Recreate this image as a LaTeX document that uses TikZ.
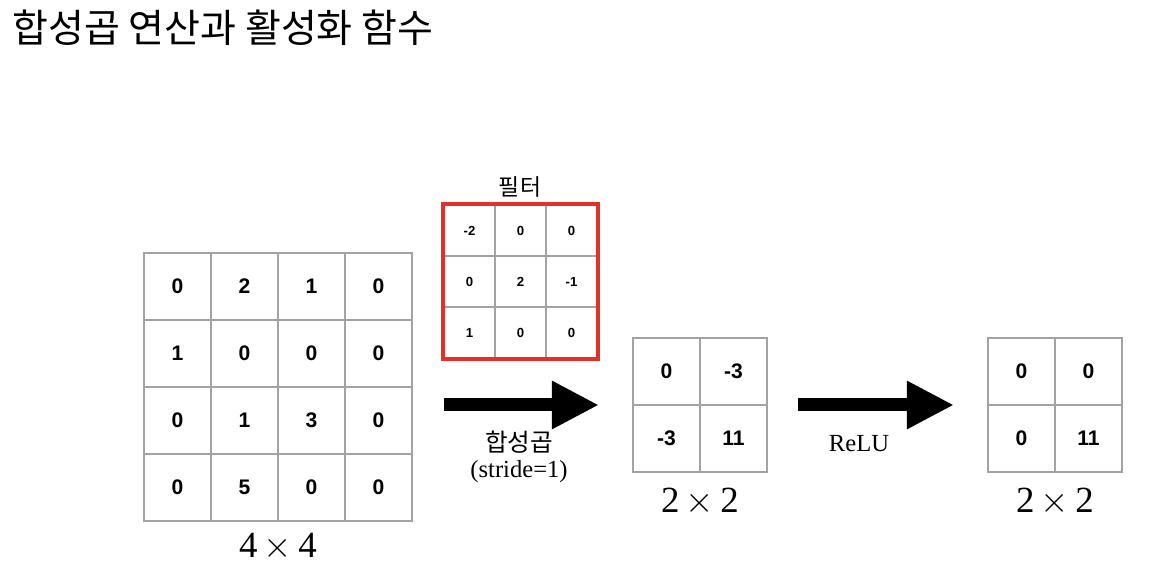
\documentclass[tikz,border=0pt]{standalone}
\usepackage{fontspec}
\setmainfont{Liberation Serif}
\newfontfamily\krfont{Noto Sans CJK KR}
\newfontfamily\numfont{Liberation Sans}
\usepackage{tikz}
\usetikzlibrary{positioning, arrows.meta, fit}
\definecolor{gridgray}{HTML}{A3A3A3}
\definecolor{filtred}{HTML}{E5302A}

\begin{document}
\begin{tikzpicture}[x=0.02cm, y=-0.02cm,
    cell/.style={draw=gridgray, line width=0.8pt, minimum size=1.34cm, inner sep=0pt,
                 font=\numfont\bfseries\fontsize{12}{14}\selectfont},
    fcell/.style={draw=gridgray, line width=0.7pt, minimum size=1.02cm, inner sep=0pt,
                  font=\numfont\bfseries\fontsize{7.5}{9}\selectfont},
    frame/.style={inner sep=0pt},
    dimlbl/.style={anchor=base, inner sep=0pt, font=\fontsize{21}{24}\selectfont},
    oplbl/.style={anchor=base, inner sep=0pt, font=\fontsize{14}{17}\selectfont},
    bigarr/.style={line width=0.26cm, -{Triangle[length=0.94cm, width=0.9cm]}},
]
\useasboundingbox (0,0) rectangle (1150,580);

% Title
\node[anchor=base west, inner sep=0pt, font=\krfont\fontsize{22.2}{26}\selectfont] (title) at (12,43)
  {합성곱 연산과 활성화 함수};

% Input 4x4
\foreach \row [count=\r] in {{0,2,1,0},{1,0,0,0},{0,1,3,0},{0,5,0,0}}
  \foreach \v [count=\c] in \row
    \node[cell] (in-\r-\c) at ({144+67*(\c-0.5)},{253+67*(\r-0.5)}) {\v};
\node[frame, fit=(in-1-1)(in-4-4)] (inp) {};
\node[dimlbl] (in-dim) at (278,558) {4\,$\times$\,4};

% Filter 3x3
\foreach \row [count=\r] in {{-2,0,0},{0,2,-1},{1,0,0}}
  \foreach \v [count=\c] in \row
    \node[fcell] (flt-\r-\c) at ({444+51*(\c-0.5)},{205+51*(\r-0.5)}) {\v};
\node[frame, draw=filtred, line width=0.08cm, fit=(flt-1-1)(flt-3-3)] (flt) {};
\node[inner sep=0pt, font=\krfont\fontsize{13}{15}\selectfont] (flt-lbl) at (520,187) {필터};

% Convolution result 2x2
\foreach \row [count=\r] in {{0,-3},{-3,11}}
  \foreach \v [count=\c] in \row
    \node[cell] (conv-\r-\c) at ({633+67*(\c-0.5)},{338+67*(\r-0.5)}) {\v};
\node[frame, fit=(conv-1-1)(conv-2-2)] (midg) {};
\node[dimlbl] (conv-dim) at (700,513) {2\,$\times$\,2};

% ReLU result 2x2
\foreach \row [count=\r] in {{0,0},{0,11}}
  \foreach \v [count=\c] in \row
    \node[cell] (act-\r-\c) at ({988+67*(\c-0.5)},{338+67*(\r-0.5)}) {\v};
\node[frame, fit=(act-1-1)(act-2-2)] (outg) {};
\node[dimlbl] (act-dim) at (1055,513) {2\,$\times$\,2};

% Arrows
\draw[bigarr, shorten <=0.62cm, shorten >=0.66cm] (inp.east |- midg.west) -- (midg.west);
\draw[bigarr, shorten <=0.6cm, shorten >=0.66cm] (midg.east) -- (outg.west);

\node[oplbl, font=\krfont\fontsize{14}{17}\selectfont] (conv-lbl) at (519,452) {합성곱};
\node[oplbl] (stride-lbl) at (519,478) {(stride=1)};
\node[oplbl] (relu-lbl) at (859,452) {ReLU};

\end{tikzpicture}
\end{document}
